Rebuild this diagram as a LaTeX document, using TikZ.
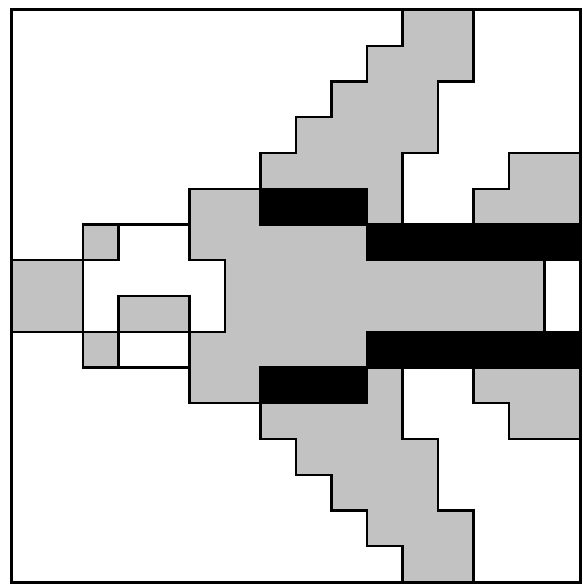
\documentclass[tikz,border=0pt]{standalone}
\begin{document}
\begin{tikzpicture}[x=35.5pt,y=35.75pt,
  outline/.style={line width=2.3pt, line join=miter},
  grayfill/.style={fill=black!24},
  blackfill/.style={fill=black}]
\useasboundingbox (-12pt,-4pt) rectangle (571pt,582pt);
\fill[white] (-12pt,-4pt) rectangle (571pt,582pt);
% main body
\filldraw[grayfill, outline] (11,16) -- (13,16) -- (13,14) -- (12,14) -- (12,12) -- (11,12)
  -- (11,10) -- (13,10) -- (13,11) -- (14,11) -- (14,12) -- (16,12) -- (16,9) -- (15,9)
  -- (15,7) -- (16,7) -- (16,4) -- (14,4) -- (14,5) -- (13,5) -- (13,6) -- (11,6)
  -- (11,4) -- (12,4) -- (12,2) -- (13,2) -- (13,0) -- (11,0) -- (11,1) -- (10,1)
  -- (10,2) -- (9,2) -- (9,3) -- (8,3) -- (8,4) -- (7,4) -- (7,5) -- (5,5) -- (5,7)
  -- (6,7) -- (6,9) -- (5,9) -- (5,11) -- (7,11) -- (7,12) -- (8,12) -- (8,13)
  -- (9,13) -- (9,14) -- (10,14) -- (10,15) -- (11,15) -- cycle;
% black bars
\filldraw[blackfill, outline] (7,10) rectangle (10,11);
\filldraw[blackfill, outline] (10,9) rectangle (16,10);
\filldraw[blackfill, outline] (10,6) rectangle (16,7);
\filldraw[blackfill, outline] (7,5) rectangle (10,6);
% left block
\draw[outline] (5,10) -- (2,10) -- (2,6) -- (5,6);
\filldraw[grayfill, outline] (0,7) rectangle (2,9);
\filldraw[grayfill, outline] (2,9) rectangle (3,10);
\filldraw[grayfill, outline] (2,6) rectangle (3,7);
\filldraw[grayfill, outline] (3,7) rectangle (5,8);
% frame
\draw[line width=3pt] (0,0) rectangle (16,16);
\end{tikzpicture}
\end{document}
